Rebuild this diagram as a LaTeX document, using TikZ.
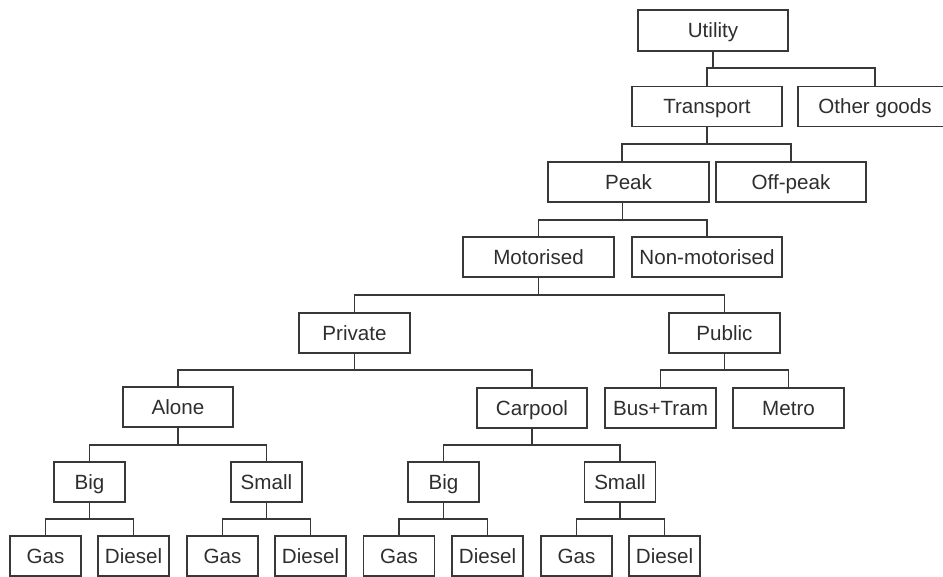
\documentclass[tikz,border=0pt]{standalone}
\usepackage{fontspec}
\setmainfont{Liberation Sans}
\begin{document}
\begin{tikzpicture}[x=1pt,y=-1pt,
  treebox/.style={draw=black!78, line width=1.3pt, rectangle, inner sep=0pt,
    minimum height=40pt, text height=14.5pt, text depth=0pt,
    text=black!82, font=\fontsize{20.6}{24}\selectfont},
  wa/.style={treebox, minimum width=150pt},
  wb/.style={treebox, minimum width=111pt},
  wc/.style={treebox, minimum width=71pt},
  link/.style={draw=black!78, line width=1.3pt}]
\useasboundingbox (0,0) rectangle (943,577);
% rows
\node[wa, minimum height=41pt] (util) at (713,30.5) {Utility};
\node[wa] (trans) at (707,106.5) {Transport};
\node[treebox, minimum width=154pt] (other) at (875,106.5) {Other goods};
\node[treebox, minimum width=161pt] (peak) at (628.5,182) {Peak};
\node[wa] (offpeak) at (791,182) {Off-peak};
\node[treebox, minimum width=151pt] (motor) at (538.5,257) {Motorised};
\node[wa] (nonmotor) at (707,257) {Non-motorised};
\node[wb] (private) at (354.5,333) {Private};
\node[wb] (public) at (724.5,333) {Public};
\node[treebox, minimum width=110pt] (alone) at (178,407) {Alone};
\node[treebox, minimum width=110pt] (carpool) at (532,408) {Carpool};
\node[wb] (bustram) at (660.5,408) {Bus+Tram};
\node[wb] (metro) at (788.5,408) {Metro};
\node[wc] (bigA) at (89.5,482) {Big};
\node[wc] (smallA) at (266.5,482) {Small};
\node[wc] (bigC) at (443.5,482) {Big};
\node[wc] (smallC) at (620,482) {Small};
\node[wc] (gasAB) at (45.5,556) {Gas};
\node[wc] (dieAB) at (133.5,556) {Diesel};
\node[wc] (gasAS) at (222.5,556) {Gas};
\node[wc] (dieAS) at (310.5,556) {Diesel};
\node[wc] (gasCB) at (399,556) {Gas};
\node[wc] (dieCB) at (487.5,556) {Diesel};
\node[wc] (gasCS) at (576.5,556) {Gas};
\node[wc] (dieCS) at (664.5,556) {Diesel};
% connectors
\draw[link] (util.south) -- (util.south |- 0,68);
\draw[link] (trans.north) -- (trans.north |- 0,68) -- (other.north |- 0,68) -- (other.north);
\draw[link] (trans.south) -- (trans.south |- 0,144);
\coordinate (peaktop) at ([xshift=-6.5pt]peak.north);
\coordinate (peakbot) at ([xshift=-6pt]peak.south);
\draw[link] (peaktop) -- (peaktop |- 0,144) -- (offpeak.north |- 0,144) -- (offpeak.north);
\draw[link] (peakbot) -- (peakbot |- 0,220);
\draw[link] (motor.north) -- (motor.north |- 0,220) -- (nonmotor.north |- 0,220) -- (nonmotor.north);
\draw[link] (motor.south) -- (motor.south |- 0,295);
\draw[link] (private.north) -- (private.north |- 0,295) -- (public.north |- 0,295) -- (public.north);
\draw[link] (private.south) -- (private.south |- 0,370);
\draw[link] (alone.north) -- (alone.north |- 0,370) -- (carpool.north |- 0,370) -- (carpool.north);
\draw[link] (public.south) -- (public.south |- 0,370);
\draw[link] (bustram.north) -- (bustram.north |- 0,370) -- (metro.north |- 0,370) -- (metro.north);
\draw[link] (alone.south) -- (alone.south |- 0,445);
\draw[link] (bigA.north) -- (bigA.north |- 0,445) -- (smallA.north |- 0,445) -- (smallA.north);
\draw[link] (carpool.south) -- (carpool.south |- 0,445);
\draw[link] (bigC.north) -- (bigC.north |- 0,445) -- (smallC.north |- 0,445) -- (smallC.north);
\draw[link] (bigA.south) -- (bigA.south |- 0,519);
\draw[link] (gasAB.north) -- (gasAB.north |- 0,519) -- (dieAB.north |- 0,519) -- (dieAB.north);
\draw[link] (smallA.south) -- (smallA.south |- 0,519);
\draw[link] (gasAS.north) -- (gasAS.north |- 0,519) -- (dieAS.north |- 0,519) -- (dieAS.north);
\draw[link] (bigC.south) -- (bigC.south |- 0,519);
\draw[link] (gasCB.north) -- (gasCB.north |- 0,519) -- (dieCB.north |- 0,519) -- (dieCB.north);
\draw[link] (smallC.south) -- (smallC.south |- 0,519);
\draw[link] (gasCS.north) -- (gasCS.north |- 0,519) -- (dieCS.north |- 0,519) -- (dieCS.north);
\end{tikzpicture}
\end{document}
